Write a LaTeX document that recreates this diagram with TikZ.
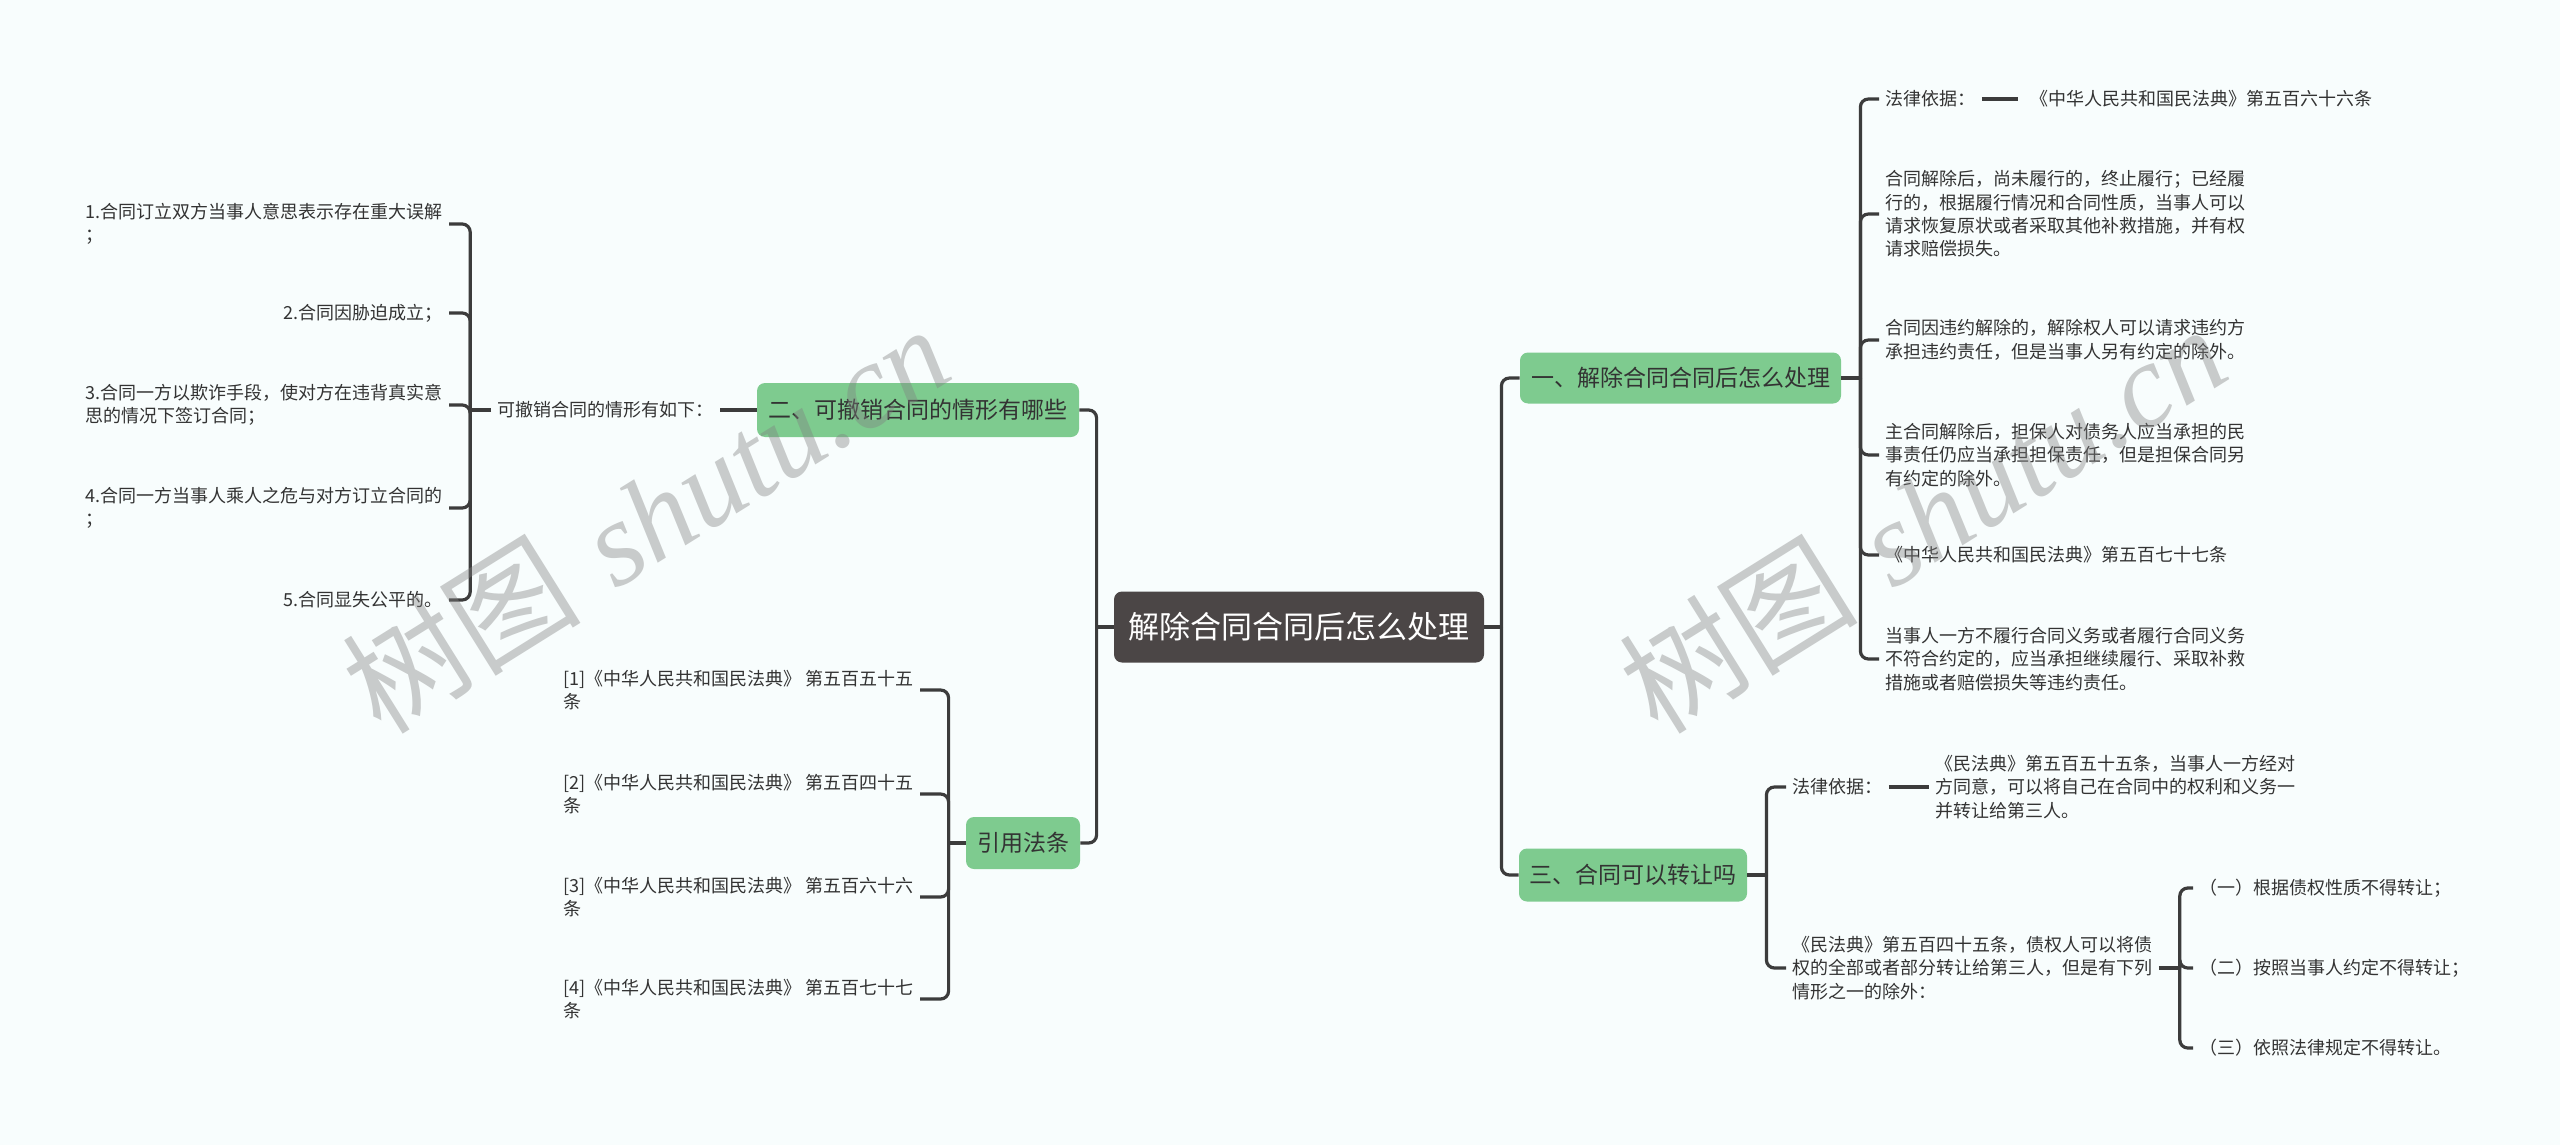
\documentclass[tikz,border=0pt]{standalone}
\usepackage{fontspec}
\newfontfamily\cjk{Noto Sans CJK SC}
\newfontfamily\wmserif{Liberation Serif}
\definecolor{bgc}{RGB}{248,253,253}
\definecolor{boxg}{RGB}{126,203,143}
\definecolor{rootc}{RGB}{75,70,70}
\definecolor{linec}{RGB}{60,60,60}
\definecolor{txt}{RGB}{51,51,51}
\begin{document}
\begin{tikzpicture}[x=0.5pt,y=-0.5pt,
 conn/.style={draw=linec,line width=1.6pt,rounded corners=4pt},
 leaf/.style={inner xsep=3pt,inner ysep=1pt,align=left,text=txt,font=\cjk\fontsize{9}{11.7}\selectfont},
 gbox/.style={fill=boxg,rounded corners=4pt,text=txt,font=\cjk\fontsize{11.5}{14}\selectfont,inner sep=0pt},
 rootbox/.style={fill=rootc,rounded corners=4pt,text=white,font=\cjk\fontsize{15.5}{18}\selectfont,inner sep=0pt},
 wmark/.style={rotate=32,text=black!50,text opacity=0.4,inner sep=0pt}]
\fill[bgc] (0,0) rectangle (2560,1145);
\useasboundingbox (0,0) rectangle (2560,1145);

% main boxes
\node[rootbox,minimum width=185pt,minimum height=35.5pt] (root) at (1299,627) {解除合同合同后怎么处理};
\node[gbox,minimum width=161pt,minimum height=27pt] (b2) at (918,410) {二、可撤销合同的情形有哪些};
\node[gbox,minimum width=57pt,minimum height=26pt] (b4) at (1023,843) {引用法条};
\node[gbox,minimum width=160.5pt,minimum height=25.5pt] (b1) at (1680.5,378) {一、解除合同合同后怎么处理};
\node[gbox,minimum width=114pt,minimum height=26.5pt] (b3) at (1633,875) {三、合同可以转让吗};

% root connectors
\draw[conn] (root.west) -- ++(-17,0) coordinate (s0);
\draw[conn] (s0) |- (b2.east);
\draw[conn] (s0) |- (b4.east);
\draw[conn] (root.east) -- ++(17,0) coordinate (sr);
\draw[conn] (sr) |- (b1.west);
\draw[conn] (sr) |- (b3.west);

% branch 1
\node[leaf,anchor=west] (r1a) at (1879,99) {法律依据：};
\node[leaf,anchor=west] (r1a2) at (2024,99) {《中华人民共和国民法典》第五百六十六条};
\node[leaf,anchor=west] (r1b) at (1879,214) {合同解除后，尚未履行的，终止履行；已经履\\行的，根据履行情况和合同性质，当事人可以\\请求恢复原状或者采取其他补救措施，并有权\\请求赔偿损失。};
\node[leaf,anchor=west] (r1c) at (1879,340) {合同因违约解除的，解除权人可以请求违约方\\承担违约责任，但是当事人另有约定的除外。};
\node[leaf,anchor=west] (r1d) at (1879,455) {主合同解除后，担保人对债务人应当承担的民\\事责任仍应当承担担保责任，但是担保合同另\\有约定的除外。};
\node[leaf,anchor=west] (r1e) at (1879,555) {《中华人民共和国民法典》第五百七十七条};
\node[leaf,anchor=west] (r1f) at (1879,659) {当事人一方不履行合同义务或者履行合同义务\\不符合约定的，应当承担继续履行、采取补救\\措施或者赔偿损失等违约责任。};
\draw[conn] (b1.east) -- ++(19,0) coordinate (s1);
\foreach \n in {r1a,r1b,r1c,r1d,r1e,r1f} {\draw[conn] (s1) |- (\n.west);}
\draw[conn,shorten >=3pt] (r1a.east) -- (r1a2.west);

% branch 3
\node[leaf,anchor=west] (r3a) at (1786,787) {法律依据：};
\node[leaf,anchor=west] (r3a2) at (1929,787) {《民法典》第五百五十五条，当事人一方经对\\方同意，可以将自己在合同中的权利和义务一\\并转让给第三人。};
\node[leaf,anchor=west] (r3b) at (1786,968) {《民法典》第五百四十五条，债权人可以将债\\权的全部或者部分转让给第三人，但是有下列\\情形之一的除外：};
\draw[conn] (b3.east) -- ++(19,0) coordinate (s3);
\draw[conn] (s3) |- (r3a.west);
\draw[conn] (s3) |- (r3b.west);
\draw[conn] (r3a.east) -- (r3a2.west);
\node[leaf,anchor=west] (r3c1) at (2193,888) {（一）根据债权性质不得转让；};
\node[leaf,anchor=west] (r3c2) at (2193,968) {（二）按照当事人约定不得转让；};
\node[leaf,anchor=west] (r3c3) at (2193,1048) {（三）依照法律规定不得转让。};
\draw[conn] (r3b.east) -- ++(21,0) coordinate (s3b);
\foreach \n in {r3c1,r3c2,r3c3} {\draw[conn] (s3b) |- (\n.west);}

% branch 2 (left)
\node[leaf,anchor=east] (la) at (720,410) {可撤销合同的情形有如下：};
\draw[conn] (b2.west) -- (la.east);
\node[leaf,anchor=east] (l1) at (449,224) {1.合同订立双方当事人意思表示存在重大误解\\；};
\node[leaf,anchor=east] (l2) at (449,313) {2.合同因胁迫成立；};
\node[leaf,anchor=east] (l3) at (449,405) {3.合同一方以欺诈手段，使对方在违背真实意\\思的情况下签订合同；};
\node[leaf,anchor=east] (l4) at (449,508) {4.合同一方当事人乘人之危与对方订立合同的\\；};
\node[leaf,anchor=east] (l5) at (449,600) {5.合同显失公平的。};
\draw[conn] (la.west) -- ++(-21,0) coordinate (sa);
\foreach \n in {l1,l2,l3,l4,l5} {\draw[conn] (sa) |- (\n.east);}

% branch 4 (left)
\node[leaf,anchor=west] (q1) at (557,690) {[1]《中华人民共和国民法典》 第五百五十五\\条};
\node[leaf,anchor=west] (q2) at (557,794) {[2]《中华人民共和国民法典》 第五百四十五\\条};
\node[leaf,anchor=west] (q3) at (557,897) {[3]《中华人民共和国民法典》 第五百六十六\\条};
\node[leaf,anchor=west] (q4) at (557,999) {[4]《中华人民共和国民法典》 第五百七十七\\条};
\draw[conn] (b4.west) -- ++(-17,0) coordinate (s4);
\foreach \n in {q1,q2,q3,q4} {\draw[conn] (s4) |- (\n.east);}

% watermarks
\node[wmark] (wm1) at (645,518) {\fontsize{60}{60}\selectfont{\cjk 树图} {\wmserif\itshape shutu.cn}};
\node[wmark] (wm2) at (1922,518) {\fontsize{60}{60}\selectfont{\cjk 树图} {\wmserif\itshape shutu.cn}};
\end{tikzpicture}
\end{document}
